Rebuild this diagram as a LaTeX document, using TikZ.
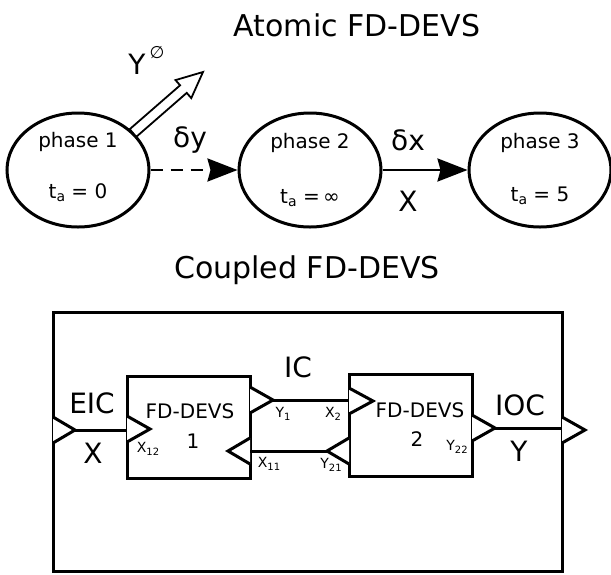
\documentclass[tikz,border=0pt]{standalone}
\usepackage{fontspec}
\setmainfont{DejaVu Sans}
\usetikzlibrary{arrows.meta,shapes.geometric}
\newcommand{\lsub}[1]{\raisebox{-2.5pt}{\fontsize{10}{10}\selectfont #1}}
\newcommand{\tsub}[1]{\raisebox{-3pt}{\fontsize{14}{14}\selectfont #1}}
\tikzset{
  phase/.style={draw,line width=3pt,ellipse,minimum width=142pt,minimum height=114pt,inner sep=0pt},
  lbl/.style={inner sep=0pt,font=\fontsize{20}{22}\selectfont},
  big/.style={inner sep=0pt,font=\fontsize{28}{30}\selectfont},
  title/.style={inner sep=0pt,font=\fontsize{30}{32}\selectfont},
  small/.style={inner sep=0pt,font=\fontsize{14}{14}\selectfont},
  blk/.style={draw,line width=3pt,minimum width=123pt,minimum height=102pt,inner sep=0pt},
  port/.style={line width=3pt,line join=miter},
  wire/.style={line width=3pt},
  trans/.style={line width=2.5pt,-{Stealth[length=30pt,width=23pt,inset=3pt]}},
}
\begin{document}
\begin{tikzpicture}[x=1pt,y=-1pt]
\useasboundingbox (0,0) rectangle (611,574);
% titles
\node[title] (t1) at (357,25) {Atomic FD-DEVS};
\node[title] (t2) at (307,270) {Coupled FD-DEVS};
% atomic
\node[phase] (p1) at (78,170) {};
\node[phase] (p2) at (310,170) {};
\node[phase] (p3) at (540,170) {};
\node[lbl] (p1a) at (78,142) {phase 1};
\node[lbl] (p1b) at (78,193) {t\tsub{a} = 0};
\node[lbl] (p2a) at (310,143) {phase 2};
\node[lbl] (p2b) at (310,198) {t\tsub{a} =\,∞};
\node[lbl] (p3a) at (540,143) {phase 3};
\node[lbl] (p3b) at (540,196) {t\tsub{a} = 5};
\draw[trans,dash pattern=on 12pt off 8pt] (p1.east) -- (p2.west);
\draw[trans] (p2.east) -- (p3.west);
\node[big] (dy) at (190,140) {δy};
\node[big] (dx) at (408,140) {δx};
\node[big] (xl) at (408,201) {X};
\node[big] (yo) at (137,64) {Y};
\node[inner sep=0pt,font=\fontsize{17}{17}\selectfont] (es) at (157,53) {∅};
% hollow output arrow
\draw[line width=1.8pt,line join=miter,fill=white]
  (136.3,136.8) -- (186.7,92.9) -- (191.3,98.1) -- (203,72) -- (175.5,80.1) -- (180.1,85.3) -- (129.7,129.2) -- cycle;
% coupled
\node[draw,line width=3pt,minimum width=509pt,minimum height=259pt,inner sep=0pt] (outer) at (307.5,441.5) {};
\node[blk] (b1) at (188.5,427) {};
\node[blk] (b2) at (410.5,425) {};
\node[lbl] (b1t) at (190,411) {FD-DEVS};
\node[lbl] (b1n) at (193,441) {1};
\node[lbl] (b2t) at (420,410) {FD-DEVS};
\node[lbl] (b2n) at (417,439) {2};
% ports
\coordinate (inA) at (75,430);
\coordinate (x12) at (150,429);
\coordinate (y1) at (273,400);
\coordinate (x2) at (373,401);
\coordinate (x11) at (228,451);
\coordinate (y21) at (327,451);
\coordinate (y22) at (495,428);
\coordinate (outA) at (585,430);
\draw[port,fill=white] (53,417) -- (inA) -- (53,443);
\draw[port,fill=white] (127,416) -- (x12) -- (127,442);
\draw[port,fill=white] (250,387) -- (y1) -- (250,413);
\draw[port,fill=white] (349,388) -- (x2) -- (349,414);
\draw[port,fill=white] (250,438) -- (x11) -- (250,464);
\draw[port,fill=white] (349,438) -- (y21) -- (349,464);
\draw[port,fill=white] (472,415) -- (y22) -- (472,441);
\draw[port,fill=white] (562,417) -- (outA) -- (562,443);
\draw[wire] (inA) -- (127,430);
\draw[wire] (y1) -- (349,400);
\draw[wire] (y21) -- (250,451);
\draw[wire] (y22) -- (562,428);
% labels
\node[big] (eic) at (92,403) {EIC};
\node[big] (xin) at (93,453) {X};
\node[big] (ic) at (298,367) {IC};
\node[big] (ioc) at (520,405) {IOC};
\node[big] (yout) at (519,451) {Y};
\node[small] (l1) at (148,449) {X\lsub{12}};
\node[small] (l2) at (283,414) {Y\lsub{1}};
\node[small] (l3) at (333,414) {X\lsub{2}};
\node[small] (l4) at (269,464) {X\lsub{11}};
\node[small] (l5) at (331,465) {Y\lsub{21}};
\node[small] (l6) at (457,447) {Y\lsub{22}};
\end{tikzpicture}
\end{document}
